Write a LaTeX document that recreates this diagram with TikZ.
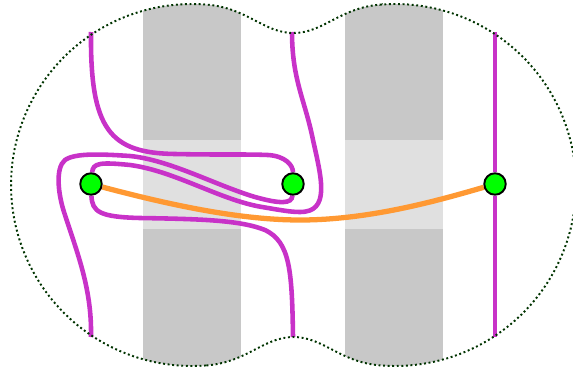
\documentclass[tikz,border=0pt]{standalone}
\usepackage{xcolor}

\definecolor{strand}{RGB}{200,50,200}
\definecolor{chord}{RGB}{255,153,51}
\definecolor{puncture}{RGB}{0,255,0}
\definecolor{rim}{RGB}{0,51,0}
\definecolor{banddark}{RGB}{200,200,200}
\definecolor{bandlight}{RGB}{224,224,224}

\pgfdeclarelayer{bands}
\pgfdeclarelayer{strands}
\pgfsetlayers{bands,strands,main}

% outline of the two-lobed disc
\newcommand{\blob}{plot[domain=85.56:274.44,samples=90] ({192+181*cos(\x)},{185+181*sin(\x)})
  .. controls (247,7.5) and (263.5,33) .. (293.5,33)
  .. controls (323.5,33) and (340,7.5) .. (381,4.54)
  -- plot[domain=265.56:454.44,samples=90] ({395+181*cos(\x)},{185+181*sin(\x)})
  .. controls (340,362.5) and (323.5,337) .. (293.5,337)
  .. controls (263.5,337) and (247,362.5) .. (206,365.46) -- cycle}

\begin{document}
\begin{tikzpicture}[x=0.02cm, y=-0.02cm]
\tikzstyle{pt} = [circle, draw=black, line width=1.1pt, fill=puncture,
    minimum size=0.43cm, inner sep=0pt]
\tikzstyle{braid} = [draw=strand, line width=2.6pt]
\tikzstyle{link} = [draw=chord, line width=3pt]
\tikzstyle{rimline} = [draw=rim, line width=1.1pt, dash pattern=on 1.1pt off 1.5pt]

\useasboundingbox (0,0) rectangle (573,375);

\node (p1) [pt] at (91,184) {};
\node (p2) [pt] at (293,184) {};
\node (p3) [pt] at (495,184) {};

\coordinate (t1) at (91,32);
\coordinate (t2) at (292,32);
\coordinate (t3) at (495,32);
\coordinate (b1) at (91,337);
\coordinate (b2) at (293,337);
\coordinate (b3) at (495,337);

\begin{pgfonlayer}{bands}
\begin{scope}
\clip \blob;
\fill[banddark] (143,0) rectangle (241,375);
\fill[banddark] (345,0) rectangle (443,375);
\fill[bandlight] (143,140) rectangle (241,229);
\fill[bandlight] (345,140) rectangle (443,229);
\end{scope}
\end{pgfonlayer}

\begin{pgfonlayer}{strands}
\path[braid] (t1) .. controls (90,130) and (110,153) .. (175,154)
    .. controls (220,155) and (245,154) .. (268,155)
    .. controls (285,156) and (293,165) .. (p2);
\path[braid] (b1) .. controls (92,290) and (78,255) .. (65,215)
    .. controls (58,195) and (55,168) .. (65,160)
    .. controls (75,153) and (100,154) .. (130,156)
    .. controls (170,160) and (215,185) .. (255,197)
    .. controls (280,204) and (292,204) .. (p2);
\path[braid] (p1) .. controls (93,163) and (100,162) .. (130,165)
    .. controls (175,171) and (220,200) .. (262,207)
    .. controls (280,210) and (290,212) .. (300,212)
    .. controls (330,212) and (322,180) .. (313,140)
    .. controls (305,100) and (292,80) .. (t2);
\path[braid] (p1) .. controls (92,212) and (100,217) .. (140,218)
    .. controls (200,219) and (240,220) .. (265,230)
    .. controls (290,242) and (292,270) .. (b2);
\path[braid] (t3) -- (p3) -- (b3);
\path[link] (p1) .. controls (170,205) and (240,220) .. (300,220)
    .. controls (370,220) and (440,200) .. (p3);
\end{pgfonlayer}

\path[rimline] \blob;
\end{tikzpicture}
\end{document}
